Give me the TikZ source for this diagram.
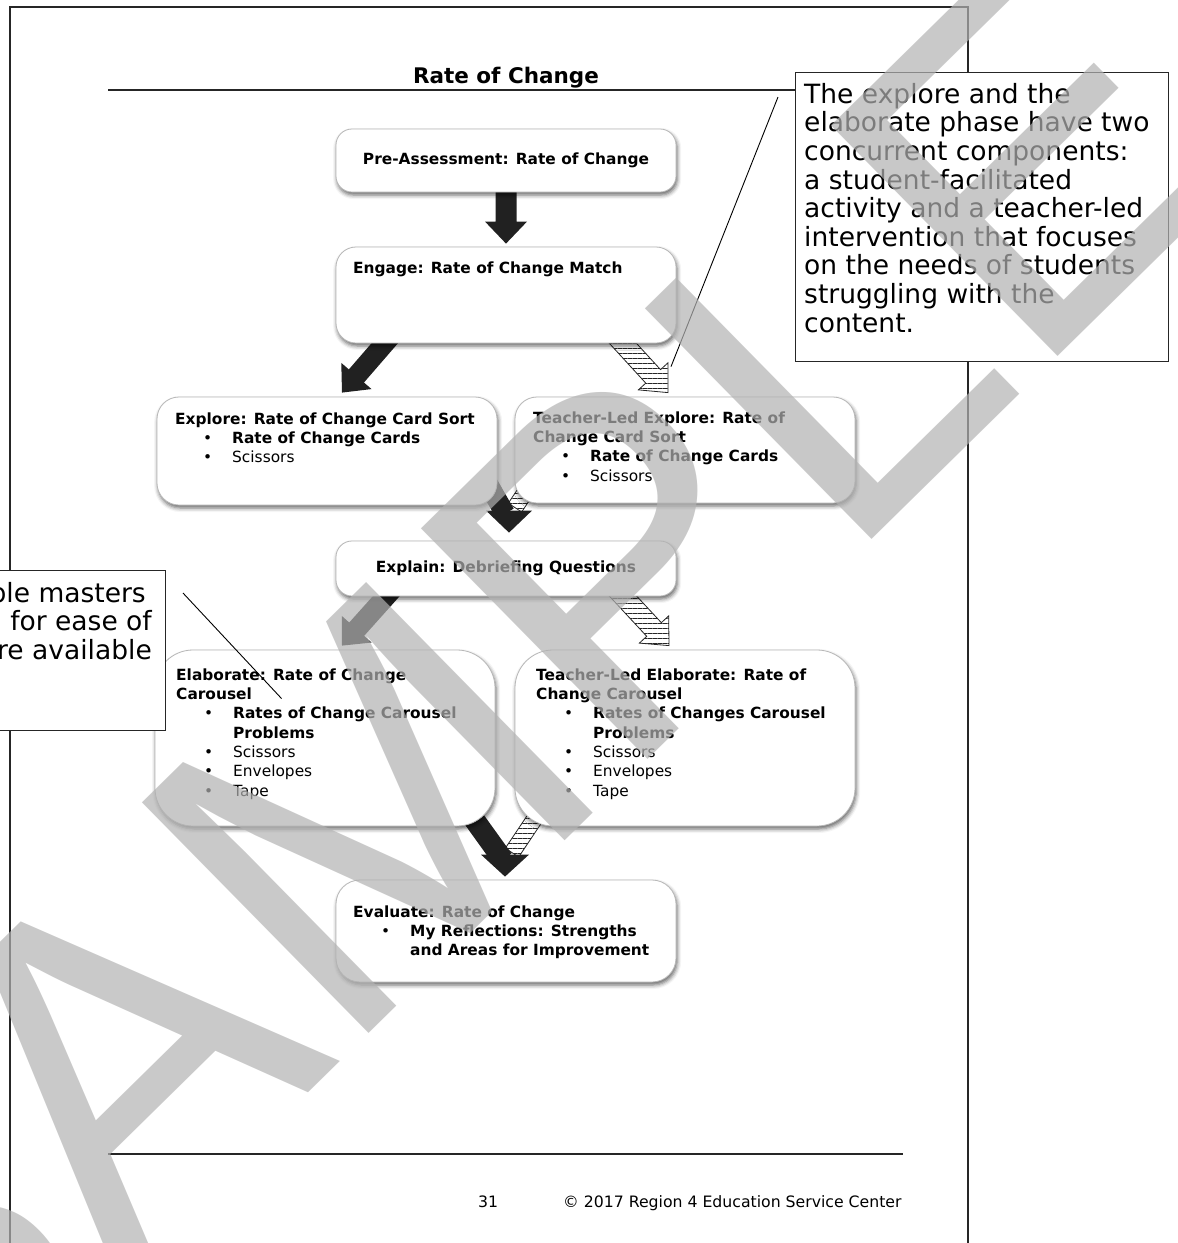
\documentclass[tikz,border=0pt]{standalone}
\usepackage{fontspec}
\setmainfont{DejaVu Sans}
\newfontfamily\wmfont{Liberation Sans}
\usetikzlibrary{calc,shadows.blur,patterns.meta}
\pgfdeclarelayer{bg}\pgfdeclarelayer{fg}\pgfsetlayers{bg,main,fg}
\newcommand\boxfont{\fontsize{15.4}{19.3}\selectfont}
\newcommand\calfont{\fontsize{26.5}{28.6}\selectfont}
\newcommand\itm[1]{\hspace*{28pt}\makebox[29pt][l]{•}#1}
\newcommand\cont[1]{\hspace*{57pt}#1}
% block arrow: style, from, to, shaft half width, head half width
\newcommand\blockarrow[5]{%
  \coordinate (ba-h) at ($(#3)!22pt!(#2)$);
  \path[#1] ($(#2)!#4!90:(#3)$) -- ($(ba-h)!#4!90:(#3)$) -- ($(ba-h)!#5!90:(#3)$) -- (#3)
     -- ($(ba-h)!#5!-90:(#3)$) -- ($(ba-h)!#4!-90:(#3)$) -- ($(#2)!#4!-90:(#3)$) -- cycle;}
% shaft only: style, from, to, half width
\newcommand\shaftpoly[4]{%
  \path[#1] ($(#2)!#4!90:(#3)$) -- ($(#3)!#4!-90:(#2)$) -- ($(#3)!#4!90:(#2)$) -- ($(#2)!#4!-90:(#3)$) -- cycle;}
\begin{document}
\begin{tikzpicture}[x=1pt,y=-1pt,
  box/.style={draw=black!28, line width=0.8pt, fill=white, rounded corners=#1,
    blur shadow={shadow xshift=1.2pt, shadow yshift=-3pt, shadow blur radius=4pt, shadow opacity=60},
    minimum width=340pt, inner sep=0pt, font=\boxfont},
  box/.default=18pt,
  btext/.style={anchor=north west, align=left, inner sep=0pt, font=\boxfont},
  callbox/.style={draw=black!85, line width=1.3pt, fill=white, inner sep=0pt},
  ctext/.style={align=left, inner sep=0pt, font=\calfont},
  frame/.style={line width=1.6pt, draw=black!85},
  blk/.style={fill=black!87},
  hatch/.style={draw=black!85, line width=0.8pt, preaction={fill=white},
    pattern={Lines[angle=0,distance=5pt,line width=0.8pt]}, pattern color=black!85},
  wm/.style={anchor=base west, rotate=44.5, inner sep=0pt, text=black!30, text opacity=0.7,
    font=\wmfont\fontsize{470}{470}\selectfont}]
\useasboundingbox (0,0) rectangle (1178,1243);

% page frame and rules
\draw[frame] (10,1243) -- (10,7) -- (968,7) -- (968,1243);
\draw[line width=1.2pt, black!85] (108,90) -- (795,90);
\draw[line width=1.6pt, black!85] (108,1154) -- (903,1154);

% title and footer
\node[anchor=base, inner sep=0pt, font=\bfseries\fontsize{21.5}{24}\selectfont] (title) at (506,83) {Rate of Change};
\node[anchor=base, inner sep=0pt, font=\fontsize{15.7}{18}\selectfont] (page) at (488,1207) {31};
\node[anchor=base west, inner sep=0pt, font=\fontsize{15.7}{18}\selectfont] (copy) at (563,1207) {© 2017 Region 4 Education Service Center};

% boxes
\node[box=16pt, minimum height=63pt] (pre) at (506,160.5) {\raisebox{-2pt}{\bfseries Pre-Assessment: Rate of Change}};
\node[box=20pt, minimum height=96pt] (engage) at (506,295) {};
\node[box=22pt, minimum height=108pt] (explore) at (327,451) {};
\node[box=22pt, minimum height=106pt] (texplore) at (685,450) {};
\node[box=16pt, minimum height=55pt] (explain) at (506,568.5) {\raisebox{-1.5pt}{\bfseries Explain: Debriefing Questions}};
\node[box=38pt, minimum height=176pt] (elab) at (325,738) {};
\node[box=38pt, minimum height=176pt] (telab) at (685,738) {};
\node[box=24pt, minimum height=102pt] (eval) at (506,931) {};

% box texts
\node[btext] (engaget) at (353,261.4) {\textbf{Engage: Rate of Change Match}};
\node[btext] (exploret) at (175,412.4) {\textbf{Explore: Rate of Change Card Sort}\\
  \itm{\textbf{Rate of Change Cards}}\\ \itm{Scissors}};
\node[btext] (texploret) at (533,411.4) {\textbf{Teacher-Led Explore: Rate of}\\ \textbf{Change Card Sort}\\
  \itm{\textbf{Rate of Change Cards}}\\ \itm{Scissors}};
\node[btext] (elabt) at (176,668.4) {\textbf{Elaborate: Rate of Change}\\ \textbf{Carousel}\\
  \itm{\textbf{Rates of Change Carousel}}\\ \cont{\textbf{Problems}}\\
  \itm{Scissors}\\ \itm{Envelopes}\\ \itm{Tape}};
\node[btext] (telabt) at (536,668.4) {\textbf{Teacher-Led Elaborate: Rate of}\\ \textbf{Change Carousel}\\
  \itm{\textbf{Rates of Changes Carousel}}\\ \cont{\textbf{Problems}}\\
  \itm{Scissors}\\ \itm{Envelopes}\\ \itm{Tape}};
\node[btext] (evalt) at (353,905.4) {\textbf{Evaluate: Rate of Change}\\
  \itm{\textbf{My Reflections: Strengths}}\\ \cont{\textbf{and Areas for Improvement}}};

% arrows (behind the boxes)
\begin{pgfonlayer}{bg}
  \coordinate (a1s) at ($(pre.south)+(0,-8)$);
  \coordinate (a1e) at ($(engage.north)+(0,-3)$);
  \blockarrow{blk}{a1s}{a1e}{10.5pt}{21pt}
  \coordinate (a2s) at ($(engage.south)+(-111,-12)$);
  \coordinate (a2e) at ($(explore.north)+(15,-4)$);
  \blockarrow{blk}{a2s}{a2e}{10pt}{20pt}
  \coordinate (a3s) at ($(engage.south)+(106,-12)$);
  \coordinate (a3e) at ($(texplore.north)+(-17,-4)$);
  \blockarrow{hatch}{a3s}{a3e}{10pt}{20pt}
  % merge into Explain
  \coordinate (m1h) at ($(texplore.south west)+(25,-33)$);
  \coordinate (m1he) at ($(explain.north)+(9,-33)$);
  \shaftpoly{hatch}{m1h}{m1he}{8pt}
  \coordinate (m1b) at ($(explore.south east)+(-17,-35)$);
  \coordinate (m1be) at ($(explain.north)+(-1,-27)$);
  \shaftpoly{blk}{m1b}{m1be}{10pt}
  \coordinate (m1t) at ($(explain.north)+(3,-8)$);
  \path[blk] ($(m1t)+(-23,-22)$) -- ($(m1t)+(23,-22)$) -- (m1t) -- cycle;
  % Explain to Elaborate
  \coordinate (a5s) at ($(explain.south)+(-111,-10)$);
  \coordinate (a5e) at ($(elab.north)+(17,-4)$);
  \blockarrow{blk}{a5s}{a5e}{10pt}{20pt}
  \coordinate (a6s) at ($(explain.south)+(108,-10)$);
  \coordinate (a6e) at ($(telab.north)+(-16,-4)$);
  \blockarrow{hatch}{a6s}{a6e}{10pt}{20pt}
  % merge into Evaluate
  \coordinate (m2h) at ($(telab.south west)+(35,-30)$);
  \coordinate (m2he) at ($(eval.north)+(6,-27)$);
  \shaftpoly{hatch}{m2h}{m2he}{8pt}
  \coordinate (m2b) at ($(elab.south east)+(-35,-26)$);
  \coordinate (m2be) at ($(eval.north)+(-3,-20)$);
  \shaftpoly{blk}{m2b}{m2be}{10.5pt}
  \coordinate (m2t) at ($(eval.north)+(-1,-3)$);
  \path[blk] ($(m2t)+(-24,-22)$) -- ($(m2t)+(24,-22)$) -- (m2t) -- cycle;
\end{pgfonlayer}

% callouts
\node[callbox, anchor=north west, minimum width=373pt, minimum height=289pt] (rcall) at (795,72) {};
\node[ctext, anchor=north west] (rcallt) at (804,83) {The explore and the\\elaborate phase have two\\concurrent components:\\a student-facilitated\\activity and a teacher-led\\intervention that focuses\\on the needs of students\\struggling with the\\content.};
\coordinate (rp1) at ($(rcall.north west)+(-17,25)$);
\coordinate (rp2) at ($(texplore.north)+(-14,-30)$);
\draw[line width=0.9pt] (rp1) -- (rp2);

\node[callbox, anchor=north east, minimum width=180pt, minimum height=160pt] (lcall) at (166,570) {};
\node[ctext, anchor=north east, align=right] (lcallt) at (152,582) {ble masters\hspace*{6pt}\\for ease of\hspace*{3pt}\\re available};
\coordinate (lp1) at ($(lcall.north east)+(17,23)$);
\coordinate (lp2) at ($(elab.north west)+(127,49)$);
\draw[line width=0.9pt] (lp1) -- (lp2);

% watermark
\begin{pgfonlayer}{fg}
  \begin{scope}
    \clip (0,0) rectangle (1178,1243);
    \node[wm] (wmark) at (-106,1500) {SAMPLE};
  \end{scope}
\end{pgfonlayer}
\end{tikzpicture}
\end{document}
